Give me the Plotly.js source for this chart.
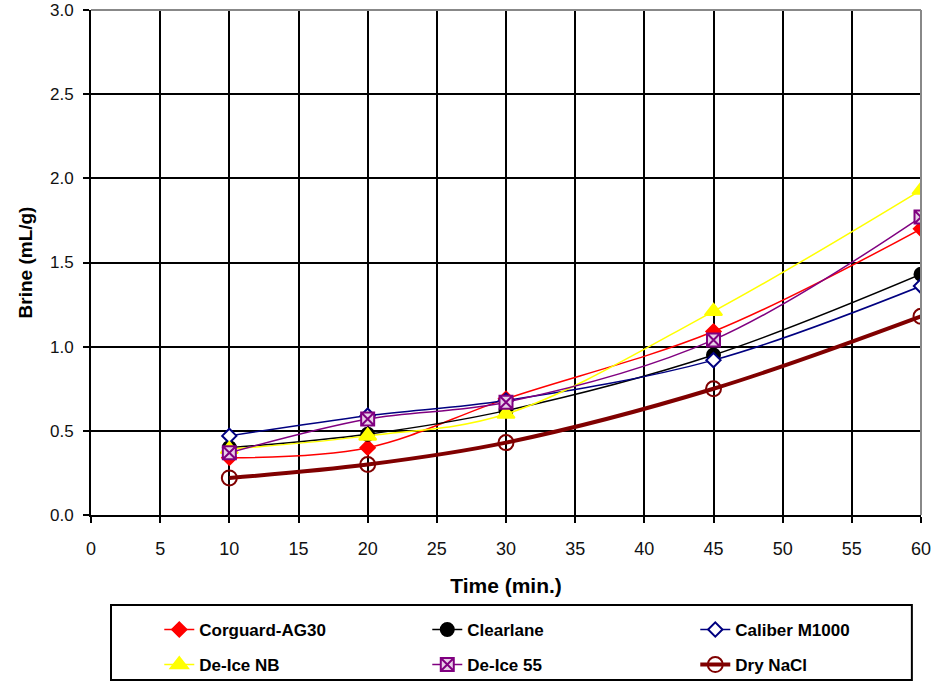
<!DOCTYPE html>
<html>
<head>
<meta charset="utf-8">
<script src="https://cdn.plot.ly/plotly-3.0.1.min.js"></script>
<style>html,body{margin:0;padding:0;background:#fff}#chart{width:937px;height:683px}</style>
</head>
<body>
<div id="chart"></div>
<script>
const times = [10, 20, 30, 45, 60];
const corguard = [0.34, 0.40, 0.69, 1.09, 1.70];
const clearlane = [0.40, 0.48, 0.62, 0.95, 1.43];
const caliber = [0.47, 0.59, 0.68, 0.92, 1.36];
const deIceNB = [0.39, 0.47, 0.60, 1.21, 1.93];
const deIce55 = [0.37, 0.57, 0.67, 1.04, 1.77];
const dryNaCl = [0.22, 0.30, 0.43, 0.75, 1.18];
const xTicks = [0,5,10,15,20,25,30,35,40,45,50,55,60];
const yTicks = [0,0.5,1,1.5,2,2.5,3];
const yTickLabels = ['0.0','0.5','1.0','1.5','2.0','2.5','3.0'];

function tr(name, y, color, width, symbol, size, mline, mfill, leg){
  return {
    x: times, y: y, name: name, type: 'scatter', mode: 'lines+markers',
    legend: leg,
    line: {color: color, width: width, shape: 'spline', smoothing: 1},
    marker: {symbol: symbol, size: size, color: mfill, line: {color: mline, width: 2}}
  };
}
const data = [
  tr('Corguard-AG30', corguard, '#FF0000', 1.5, 'diamond', 11, '#FF0000', '#FF0000', 'legend'),
  tr('Clearlane', clearlane, '#000000', 1.5, 'circle', 13, '#000000', '#000000', 'legend'),
  tr('Caliber M1000', caliber, '#000080', 1.5, 'diamond', 11, '#000080', '#FFFFFF', 'legend'),
  tr('De-Ice NB', deIceNB, '#FFFF00', 1.5, 'triangle-up', 15, '#FFFF00', '#FFFF00', 'legend2'),
  tr('De-Ice 55', deIce55, '#800080', 1.5, 'square-x', 13, '#800080', '#E8D0E8', 'legend2'),
  tr('Dry NaCl', dryNaCl, '#800000', 4, 'circle-open', 15, '#800000', '#800000', 'legend2')
];

const legCommon = {
  orientation: 'h', xanchor: 'center', yanchor: 'middle',
  borderwidth: 0, bgcolor: 'rgba(0,0,0,0)',
  font: {size: 17, weight: 'bold', color: '#000', family: 'Liberation Sans, Arial, sans-serif'},
  entrywidth: 223, itemwidth: 30, traceorder: 'normal'
};

const layout = {
  width: 937, height: 683,
  margin: {l: 91, r: 16, t: 10, b: 168, autoexpand: false},
  paper_bgcolor: '#fff', plot_bgcolor: '#fff',
  font: {family: 'Liberation Sans, Arial, sans-serif', color: '#000'},
  xaxis: {
    range: [0, 60], tickvals: xTicks, ticktext: xTicks.map(String),
    showgrid: true, gridcolor: '#000', gridwidth: 2,
    showline: true, linecolor: '#000', linewidth: 2,
    ticks: 'outside', ticklen: 6, tickwidth: 2, tickcolor: '#000',
    ticklabelstandoff: 10,
    tickfont: {size: 18, color: '#111'}, zeroline: false,
    title: {text: 'Time (min.)', font: {size: 21, weight: 'bold'}, standoff: 21}
  },
  yaxis: {
    range: [0, 3], tickvals: yTicks, ticktext: yTickLabels,
    showgrid: true, gridcolor: '#000', gridwidth: 2,
    showline: true, linecolor: '#000', linewidth: 2,
    ticks: 'outside', ticklen: 6, tickwidth: 2, tickcolor: '#000',
    ticklabelstandoff: 6,
    tickfont: {size: 17, color: '#111'}, zeroline: false,
    title: {text: 'Brine (mL/g)', font: {size: 19, weight: 'bold'}, standoff: 12}
  },
  shapes: [
    {type: 'line', xref: 'paper', yref: 'paper', x0: 0, x1: 1, y0: 1, y1: 1, line: {color: '#888', width: 2}},
    {type: 'line', xref: 'paper', yref: 'paper', x0: 1, x1: 1, y0: 0, y1: 1, line: {color: '#888', width: 2}},
    {type: 'rect', xref: 'paper', yref: 'paper', x0: 0.0241, x1: 0.989, y0: -0.178, y1: -0.3267,
     line: {color: '#000', width: 2}, fillcolor: 'rgba(0,0,0,0)'}
  ],
  showlegend: true,
  legend: Object.assign({}, legCommon, {x: 0.5666, y: -0.2277}),
  legend2: Object.assign({}, legCommon, {x: 0.5666, y: -0.297})
};
Plotly.newPlot('chart', data, layout, {displayModeBar: false, staticPlot: true});
</script>
</body>
</html>
